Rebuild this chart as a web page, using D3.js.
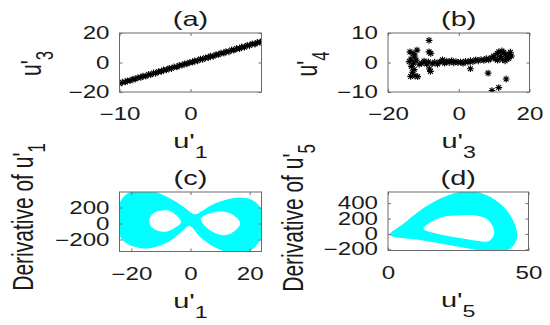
<!DOCTYPE html>
<html>
<head>
<meta charset="utf-8">
<script src="https://cdn.jsdelivr.net/npm/d3@7"></script>
<style>
  body { margin: 0; background: #fff; }
  svg text { font-family: "Liberation Sans", Arial, sans-serif; fill: #1a1a1a; }
</style>
</head>
<body>
<div id="chart"></div>
<script>
// ---- data ----
// (a) u'1 vs u'3 scatter
const aPts = [
  [-10.0,-14.3],[-9.6,-13.4],[-9.2,-13.2],[-8.9,-12.4],[-8.5,-12.3],[-8.1,-11.3],[-7.8,-11.2],
  [-7.4,-10.3],[-7.0,-10.1],[-6.7,-9.2],[-6.3,-9.3],[-5.9,-8.1],[-5.6,-8.2],[-5.2,-7.1],
  [-4.9,-7.3],[-4.5,-6.2],[-4.1,-6.0],[-3.8,-5.1],[-3.4,-5.0],[-3.0,-4.0],[-2.7,-4.1],
  [-2.3,-3.0],[-1.9,-3.0],[-1.6,-2.0],[-1.2,-1.8],[-0.8,-0.9],[-0.5,-0.9],[-0.1,0.1],
  [0.3,0.2],[0.6,1.1],[1.0,1.2],[1.4,2.3],[1.7,2.1],[2.1,3.2],[2.5,3.3],[2.8,4.3],
  [3.2,4.2],[3.6,5.4],[3.9,5.3],[4.3,6.4],[4.7,6.3],[5.0,7.4],[5.4,7.3],[5.8,8.5],
  [6.1,8.4],[6.5,9.5],[6.9,9.4],[7.2,10.5],[7.6,10.4],[8.0,11.6],[8.3,11.5],[8.7,12.6],
  [9.1,12.5],[9.4,13.6],[9.8,13.7],[10.1,14.5]
];
// (b) u'3 vs u'4 scatter
const bPts = [
  [-13.8,3.6],[-12.9,3.0],[-11.8,4.2],[-12.4,2.2],[-13.5,1.2],[-14.0,0.3],[-12.8,-0.2],
  [-13.4,-1.3],[-12.6,-2.4],[-13.1,-3.3],[-13.6,-4.7],[-12.4,-4.5],[-11.6,-4.8],[-12.1,0.8],
  [-11.2,-0.6],[-8.4,7.5],[-8.4,3.6],[-7.9,3.1],[-8.0,-3.0],[-8.3,-2.2],
  [-10.5,-0.3],[-9.8,0.5],[-9.1,-0.5],[-8.6,0.2],[-7.5,-0.4],[-6.8,0.1],[-6.0,-0.5],
  [-5.3,0.2],[-4.6,0.9],[-4.0,-0.2],[-3.4,0.5],[-2.7,0.0],[-2.0,0.6],[-1.4,-0.1],
  [-0.8,0.3],[-0.2,0.0],[0.5,0.2],[1.2,-0.3],[1.9,0.4],[2.6,0.1],[3.3,0.6],[4.0,0.3],
  [4.8,0.9],[5.5,0.6],[6.3,1.0],[7.1,0.7],[7.8,1.3],[8.5,0.9],[3.3,-2.1],
  [9.2,1.6],[9.9,2.2],[10.3,1.2],[10.9,3.0],[11.3,3.6],[11.8,2.0],[12.2,3.9],[12.7,3.5],
  [13.2,2.6],[13.6,1.2],[14.1,1.4],[14.2,2.9],[13.1,0.6],[12.4,1.0],[11.0,0.8],
  [14.9,2.2],[14.6,3.5],
  [8.3,-3.6],[13.4,-5.6],[11.3,-8.5],[9.4,-9.5]
];
// (c) u'1 vs derivative of u'1: outline of the filled band and its two holes
const cOuter = [
  [1.5,115],[-2.4,211],[-7.0,315],[-11.5,390],[-16.0,420],[-20.6,390],[-23.4,295],
  [-24.6,148],[-24.6,-61],[-23.4,-186],[-20.6,-269],[-16.0,-312],[-11.5,-290],[-7.0,-220],
  [-3.0,-102],[-0.4,-27],[3.2,-165],[7.8,-290],[13.4,-365],[18.0,-374],[21.9,-290],
  [24.2,-144],[24.6,65],[23.4,211],[20.8,295],[16.8,324],[11.7,295],[7.2,233],[3.8,156]
];
const cHoleL = [[-14.0,23],[-12.6,127],[-9.5,164],[-6.4,148],[-3.2,20],[-5.3,-52],[-8.7,-104],[-12.6,-62]];
const cHoleR = [[3.5,60],[7.8,141],[13.4,127],[16.8,2],[14.6,-102],[11.0,-146],[5.8,-61]];
// (d) u'5 vs derivative of u'5
const dOuter = [
  [0.7,-10],[5.5,133],[11.4,306],[17.4,437],[23.3,524],[29.3,560],[35.2,502],[41.2,349],
  [44.8,154],[46.0,-20],[45.2,-120],[43.0,-200],[38.5,-240],[32.9,-215],[22.1,-147],[11.4,-80]
];
const dHole = [
  [12.6,68],[15.6,163],[19.8,222],[25.7,242],[31.7,238],[35.2,195],[37.4,89],[37.6,-20],
  [35.8,-95],[31.7,-88],[23.3,-40],[16.2,15]
];

// ticks
const aXTicks = [-10, 0], aYTicks = [-20, 0, 20];
const bXTicks = [-20, 0, 20], bYTicks = [-10, 0, 10];
const cXTicks = [-20, 0, 20], cYTicks = [-200, 0, 200];
const dXTicks = [0, 50], dYTicks = [-200, 0, 200, 400];

const titles = ["(a)", "(b)", "(c)", "(d)"];

// ---- layout ----
const W = 550, H = 325;
const SX = 1.38;          // glyphs in the picture are wider than tall
const TICK_FS = 17.5, LAB_FS = 21;

const svg = d3.select("#chart").append("svg")
  .attr("width", W).attr("height", H);

const panels = [
  { box: [119.5, 261.5, 33, 92], xDom: [-10, 10], yDom: [-20, 20], xT: aXTicks, yT: aYTicks,
    xLab: ["u'", "1"], yLab: ["u'", "3"], yLabX: 41, yLabY: 63.5, pts: aPts },
  { box: [388, 529.5, 33, 92], xDom: [-20, 20], yDom: [-10, 10], xT: bXTicks, yT: bYTicks,
    xLab: ["u'", "3"], yLab: ["u'", "4"], yLabX: 317, yLabY: 64, pts: bPts },
  { box: [119.5, 261.5, 192, 251.5], xDom: [-24, 24], yDom: [-350, 394], xT: cXTicks, yT: cYTicks,
    xLab: ["u'", "1"], yLab: ["Derivative of u'", "1"], yLabX: 33, yLabY: 217, shape: [cOuter, cHoleL, cHoleR] },
  { box: [388, 528.5, 192, 250.5], xDom: [0, 50], yDom: [-215, 545], xT: dXTicks, yT: dYTicks,
    xLab: ["u'", "5"], yLab: ["Derivative of u'", "5"], yLabX: 303, yLabY: 218, shape: [dOuter, dHole] }
];

const starPath = r => {
  const k = r * 0.707;
  return `M${-r},0H${r}M0,${-r}V${r}M${-k},${-k}L${k},${k}M${-k},${k}L${k},${-k}`;
};

const hText = (g, x, y, parts, size) => {
  const t = g.append("g")
    .attr("transform", `translate(${x},${y}) scale(${SX},1)`)
    .append("text").attr("text-anchor", "middle").attr("font-size", size);
  t.append("tspan").text(parts[0]);
  if (parts[1]) t.append("tspan").attr("font-size", size * 0.8).attr("dy", 10).text(parts[1]);
};

const vText = (g, x, y, parts, size) => {
  const t = g.append("g")
    .attr("transform", `translate(${x},${y}) rotate(-90) scale(1,${SX})`)
    .append("text").attr("text-anchor", "middle").attr("font-size", size);
  t.append("tspan").text(parts[0]);
  if (parts[1]) t.append("tspan").attr("font-size", size * 0.8).attr("dy", 12 / SX).text(parts[1]);
};

panels.forEach((p, i) => {
  const [x0, x1, y0, y1] = p.box;
  const x = d3.scaleLinear().domain(p.xDom).range([x0, x1]);
  const y = d3.scaleLinear().domain(p.yDom).range([y1, y0]);
  const g = svg.append("g");

  g.append("clipPath").attr("id", "clip" + i)
    .append("rect").attr("x", x0).attr("y", y0).attr("width", x1 - x0).attr("height", y1 - y0);

  const marks = g.append("g").attr("clip-path", `url(#clip${i})`);
  if (p.pts) {
    marks.selectAll("path").data(p.pts).enter().append("path")
      .attr("transform", d => `translate(${x(d[0])},${y(d[1])})`)
      .attr("d", starPath(3.4))
      .attr("fill", "none").attr("stroke", "#000").attr("stroke-width", 1.1);
  }
  if (p.shape) {
    const line = d3.line().x(d => x(d[0])).y(d => y(d[1]))
      .curve(d3.curveCatmullRomClosed.alpha(0.5));
    marks.append("path")
      .attr("d", p.shape.map(s => line(s)).join(""))
      .attr("fill", "#00ffff").attr("fill-rule", "evenodd");
  }

  // axes, ticks pointing inwards
  const styleAxis = a => {
    a.select(".domain").remove();
    a.selectAll(".tick line").attr("stroke", "#707070");
  };
  g.append("g").attr("transform", `translate(0,${y1})`)
    .call(d3.axisBottom(x).tickValues(p.xT).tickSize(-3).tickPadding(16))
    .call(styleAxis)
    .call(a => a.selectAll("text").attr("font-size", TICK_FS).attr("fill", "#1a1a1a")
      .attr("transform", `scale(${SX},1)`));
  g.append("g").attr("transform", `translate(${x0},0)`)
    .call(d3.axisLeft(y).tickValues(p.yT).tickSize(-3).tickPadding(10))
    .call(styleAxis)
    .call(a => a.selectAll("text").attr("font-size", TICK_FS).attr("fill", "#1a1a1a")
      .attr("x", 0).attr("transform", `translate(-10,0) scale(${SX},1)`));
  g.append("g").attr("transform", `translate(0,${y0})`)
    .call(d3.axisTop(x).tickValues(p.xT).tickSize(-3).tickFormat(""))
    .call(styleAxis);
  g.append("g").attr("transform", `translate(${x1},0)`)
    .call(d3.axisRight(y).tickValues(p.yT).tickSize(-3).tickFormat(""))
    .call(styleAxis);

  g.append("rect").attr("x", x0).attr("y", y0).attr("width", x1 - x0).attr("height", y1 - y0)
    .attr("fill", "none").attr("stroke", "#6a6a6a").attr("stroke-width", 1);

  const cx = (x0 + x1) / 2;
  hText(g, cx, y0 - 7, [titles[i]], LAB_FS);
  hText(g, cx, y1 + 56, p.xLab, LAB_FS);
  vText(g, p.yLabX, p.yLabY, p.yLab, LAB_FS);
});
</script>
</body>
</html>
